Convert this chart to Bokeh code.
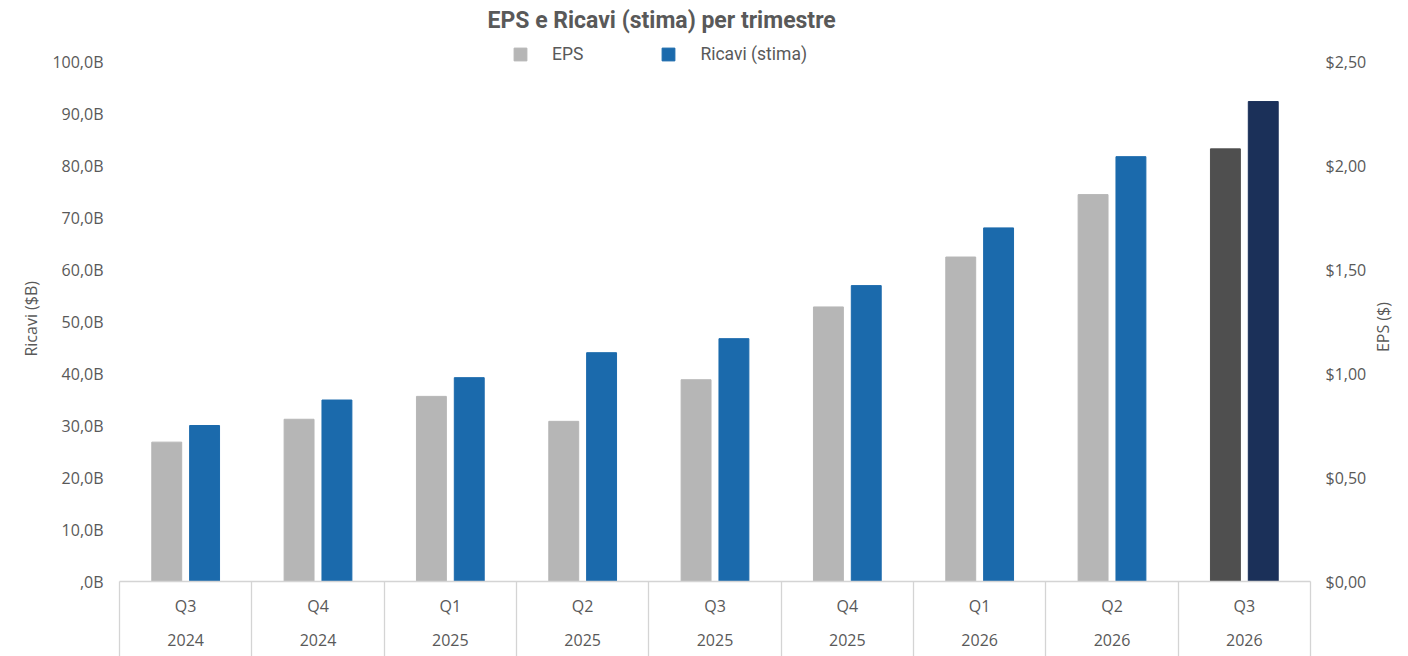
import math
from bokeh.plotting import figure
from bokeh.models import (ColumnDataSource, Range1d, LinearAxis, FixedTicker,
                          Legend, LegendItem, Label)
from bokeh.embed import file_html
from bokeh.resources import INLINE

# ---------------- data ----------------
quarters = ["Q3", "Q4", "Q1", "Q2", "Q3", "Q4", "Q1", "Q2", "Q3"]
years = ["2024", "2024", "2025", "2025", "2025", "2025", "2026", "2026", "2026"]
eps = [0.67, 0.78, 0.89, 0.77, 0.97, 1.32, 1.56, 1.86, 2.08]
revenue = [30.0, 34.9, 39.2, 44.0, 46.7, 56.9, 68.0, 81.7, 92.3]
eps_colors = ["#B6B6B6"] * 8 + ["#4F4F4F"]
rev_colors = ["#1B6AAC"] * 8 + ["#1B3059"]

rev_ticks = [0, 10, 20, 30, 40, 50, 60, 70, 80, 90, 100]
rev_tick_labels = [",0B", "10,0B", "20,0B", "30,0B", "40,0B", "50,0B",
                   "60,0B", "70,0B", "80,0B", "90,0B", "100,0B"]
eps_ticks = [0.0, 0.5, 1.0, 1.5, 2.0, 2.5]
eps_tick_labels = ["$0,00", "$0,50", "$1,00", "$1,50", "$2,00", "$2,50"]

title_text = "EPS e Ricavi (stima) per trimestre"
left_title = "Ricavi ($B)"
right_title = "EPS ($)"

# ---------------- styling / layout ----------------
TXT = "#595959"
GRID = "#D4D4D4"
FONT = "Open Sans"
TFONT = "Roboto"
FS = "16px"

W, H = 1408, 656
FRAME_BOTTOM = 581          # pixel row of the zero line
AXIS_TOP = 61               # pixel row of the top grid line
PLOT_H = FRAME_BOTTOM - AXIS_TOP
# plot area spans the full height above the zero line, so that title and
# legend can sit inside it above the top grid line
head = FRAME_BOTTOM / PLOT_H

n = len(quarters)
centers = [i + 0.5 for i in range(n)]
bounds = [float(i) for i in range(n + 1)]
off = 0.143
bw = 0.226

src = ColumnDataSource(dict(
    x_eps=[c - off for c in centers],
    x_rev=[c + off for c in centers],
    eps=eps, revenue=revenue,
    eps_color=eps_colors, rev_color=rev_colors,
))

p = figure(width=W, height=H, output_backend="svg", toolbar_location=None,
           x_range=Range1d(0, n), y_range=Range1d(0, rev_ticks[-1] * head),
           x_axis_type=None, y_axis_type=None, title_location=None,
           min_border_left=119, min_border_right=95, min_border_top=0,
           min_border_bottom=H - FRAME_BOTTOM)
p.outline_line_color = None
p.background_fill_color = "white"
p.border_fill_color = "white"
p.extra_y_ranges = {"eps": Range1d(0, eps_ticks[-1] * head)}

r_eps = p.vbar(x="x_eps", top="eps", width=bw, color="eps_color",
               source=src, y_range_name="eps")
r_rev = p.vbar(x="x_rev", top="revenue", width=bw, color="rev_color",
               source=src)


def plain(ax, standoff):
    ax.axis_line_color = None
    ax.major_tick_line_color = None
    ax.minor_tick_line_color = None
    ax.major_tick_out = 0
    ax.major_tick_in = 0
    ax.major_label_text_font = FONT
    ax.major_label_text_font_size = FS
    ax.major_label_text_color = TXT
    ax.major_label_standoff = standoff
    return ax


# left / right value axes
ya = plain(LinearAxis(ticker=FixedTicker(ticks=rev_ticks),
                      major_label_overrides=dict(zip(rev_ticks, rev_tick_labels))), 16)
yb = plain(LinearAxis(ticker=FixedTicker(ticks=eps_ticks), y_range_name="eps",
                      major_label_overrides=dict(zip(eps_ticks, eps_tick_labels))), 15)
p.add_layout(ya, "left")
p.add_layout(yb, "right")

# axis titles, reading bottom-to-top, as the outermost side labels
# left title: its top end sits a little above the middle of the value axis
left_anchor = rev_ticks[-1] * (0.5 + 80 / 2 / PLOT_H + 0.001)
# right title: its bottom end sits a little below the middle of the value axis
right_anchor = eps_ticks[-1] * (0.5 - 55 / 2 / PLOT_H - 0.006)
yt_l = plain(LinearAxis(ticker=FixedTicker(ticks=[left_anchor]),
                        major_label_overrides={left_anchor: left_title},
                        major_label_orientation=math.pi / 2), 18)
yt_r = plain(LinearAxis(ticker=FixedTicker(ticks=[right_anchor]), y_range_name="eps",
                        major_label_overrides={right_anchor: right_title},
                        major_label_orientation=math.pi / 2), 14)
p.add_layout(yt_l, "left")
p.add_layout(yt_r, "right")

# horizontal grid
p.ygrid.ticker = FixedTicker(ticks=rev_ticks)
p.ygrid.grid_line_color = GRID
p.ygrid.grid_line_width = 1.3

# bottom axes: quarters, then years; minor ticks draw the category separators
sep_len = H - FRAME_BOTTOM
xq = plain(LinearAxis(ticker=FixedTicker(ticks=centers, minor_ticks=bounds),
                      major_label_overrides=dict(zip(centers, quarters))), 13 - sep_len)
xq.axis_line_color = GRID
xq.axis_line_width = 1.3
xq.minor_tick_line_color = GRID
xq.minor_tick_line_width = 1.3
xq.minor_tick_out = sep_len
xq.minor_tick_in = 0

xy = plain(LinearAxis(ticker=FixedTicker(ticks=centers),
                      major_label_overrides=dict(zip(centers, years))), 14)
p.add_layout(xq, "below")
p.add_layout(xy, "below")

# title (inside the top of the plot area)
p.add_layout(Label(x=368, y=FRAME_BOTTOM - 20, x_units="screen", y_units="screen",
                   text=title_text, text_align="left", text_baseline="middle",
                   text_font=TFONT, text_font_size="23px", text_font_style="bold",
                   text_color=TXT))

# legend
legend = Legend(items=[LegendItem(label="EPS", renderers=[r_eps], index=0),
                       LegendItem(label="Ricavi (stima)", renderers=[r_rev], index=0)],
                orientation="horizontal", location=(393, 517),
                glyph_width=16, glyph_height=16, label_standoff=24, spacing=77,
                padding=0, margin=0, border_line_color=None,
                background_fill_alpha=0,
                label_text_font=TFONT, label_text_font_size="17.5px",
                label_text_color=TXT)
p.add_layout(legend, "center")

open("out.html", "w").write(file_html(p, INLINE))
